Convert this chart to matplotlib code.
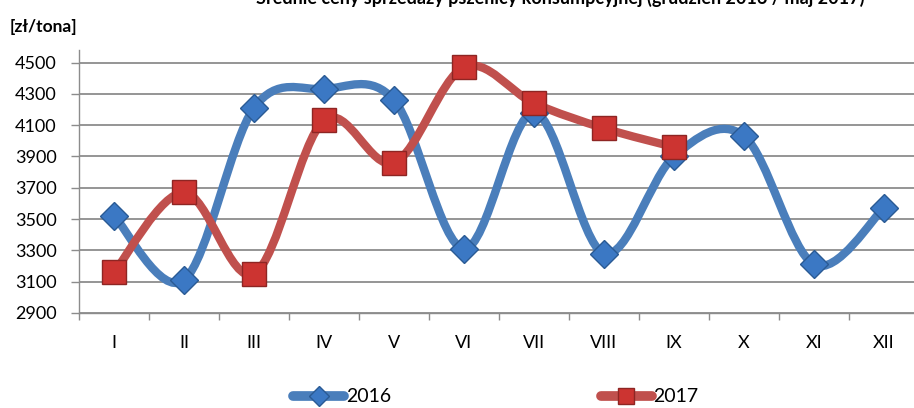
import numpy as np
from matplotlib import pyplot as plt
from matplotlib.path import Path
from matplotlib.patches import PathPatch
from matplotlib.lines import Line2D

months = ['I', 'II', 'III', 'IV', 'V', 'VI', 'VII', 'VIII', 'IX', 'X', 'XI', 'XII']
ceny_2016 = [3520, 3110, 4210, 4330, 4260, 3310, 4180, 3280, 3900, 4030, 3210, 3570]
ceny_2017 = [3160, 3670, 3150, 4130, 3860, 4470, 4240, 4080, 3960]
y_ticks = [2900, 3100, 3300, 3500, 3700, 3900, 4100, 4300, 4500]

BLUE = '#4a7ebb'
RED = '#c0504d'


def smooth_path(xs, ys):
    # Excel-like smoothed line: Catmull-Rom segments as cubic Bezier
    pts = np.column_stack([xs, ys]).astype(float)
    n = len(pts)
    verts = [pts[0]]
    codes = [Path.MOVETO]
    for i in range(n - 1):
        p0 = pts[i - 1] if i > 0 else pts[i]
        p1 = pts[i]
        p2 = pts[i + 1]
        p3 = pts[i + 2] if i + 2 < n else pts[i + 1]
        c1 = p1 + (p2 - p0) / 6.0
        c2 = p2 - (p3 - p1) / 6.0
        verts += [c1, c2, p2]
        codes += [Path.CURVE4] * 3
    return Path(verts, codes)


plt.rcParams['font.family'] = ['Lato', 'DejaVu Sans']
fig = plt.figure(figsize=(9.14, 4.08), dpi=100)
ax = fig.add_axes([79 / 914, 95 / 408, 840 / 914, 263 / 408])

x16 = np.arange(len(ceny_2016))
x17 = np.arange(len(ceny_2017))

ax.add_patch(PathPatch(smooth_path(x16, ceny_2016), facecolor='none', edgecolor=BLUE,
                       lw=6, capstyle='round', joinstyle='round', zorder=3))
ax.plot(x16, ceny_2016, ls='none', marker='D', ms=14, mfc='#3b78c4', mec='#2a5a94',
        mew=1, zorder=5)

ax.add_patch(PathPatch(smooth_path(x17, ceny_2017), facecolor='none', edgecolor=RED,
                       lw=6, capstyle='round', joinstyle='round', zorder=4))
ax.plot(x17, ceny_2017, ls='none', marker='s', ms=17, mfc='#cc3431', mec='#8e2523',
        mew=1, zorder=6)

ax.set_xlim(-0.5, 11.5)
ax.set_ylim(2900, 4580)
ax.set_yticks(y_ticks)
ax.yaxis.grid(True, color='#8c8c8c', lw=1.3)
ax.set_axisbelow(True)

ax.set_xticks(np.arange(-0.5, 11.5, 1))
ax.set_xticklabels([])
ax.set_xticks(x16, minor=True)
ax.set_xticklabels(months, minor=True)
ax.tick_params(axis='x', which='major', length=5, width=1, color='#8c8c8c', direction='out')
ax.tick_params(axis='x', which='minor', length=0, pad=16, labelsize=13)
ax.tick_params(axis='y', length=6, width=1, color='#8c8c8c', pad=10, labelsize=13)

for side in ['top', 'right']:
    ax.spines[side].set_visible(False)
for side in ['left', 'bottom']:
    ax.spines[side].set_color('#8c8c8c')
    ax.spines[side].set_linewidth(1)

fig.text(10 / 914, 1 - 27 / 408, '[zł/tona]', fontsize=12.5, fontweight='bold',
         ha='left', va='center')
# title sits mostly above the canvas, as in the reference
fig.text(560 / 914, 1 - 4 / 408, 'Średnie ceny sprzedaży pszenicy konsumpcyjnej (grudzień 2016 / maj 2017)',
         fontsize=13, fontweight='bold', ha='center', va='baseline')

handles = [
    Line2D([], [], color=BLUE, lw=7, marker='D', ms=10, mfc='#3b78c4', mec='#2a5a94',
           solid_capstyle='round'),
    Line2D([], [], color=RED, lw=7, marker='s', ms=12, mfc='#cc3431', mec='#8e2523',
           solid_capstyle='round'),
]
fig.legend(handles, ['2016', '2017'], loc='center', bbox_to_anchor=(496 / 914, 11 / 408),
           ncol=2, frameon=False, fontsize=14, handlelength=2.6, handletextpad=0.1,
           columnspacing=10.8, borderpad=0)

fig.savefig('out.png', dpi=100)
